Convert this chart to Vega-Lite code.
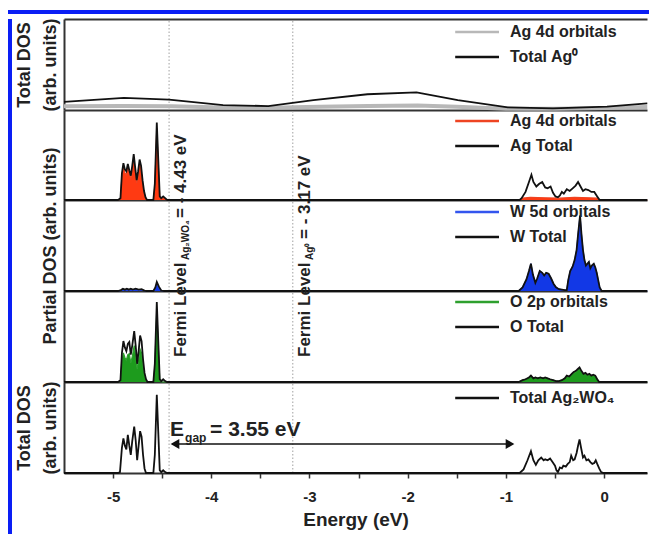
{
"$schema": "https://vega.github.io/schema/vega-lite/v6.json",
"padding": {"left": 8, "top": 10, "right": 0, "bottom": 0},
"background": "#ffffff",
"spacing": 0,
"config": {
  "font": "Liberation Sans",
  "view": {"stroke": null},
  "axis": {"grid": false, "labels": false, "ticks": false, "domainColor": "#333333", "domainWidth": 2, "titleFontWeight": "bold", "titleColor": "#222222", "labelFont": "Liberation Sans", "titleFont": "Liberation Sans"},
  "legend": {"title": null, "orient": "none", "symbolType": "M-6.3,0H1", "symbolSize": 144, "symbolStrokeWidth": 2.5, "labelFontSize": 16, "labelFontWeight": "bold", "labelColor": "#222222", "labelOffset": 9, "rowPadding": 9, "padding": 0, "labelFont": "Liberation Sans"}
},
"datasets": {
  "fermi": [{"E": -4.43}, {"E": -3.17}],
  "dos": [
    {"p":"Ag0","s":"Total Ag⁰","E":-5.5,"v":9},{"p":"Ag0","s":"Total Ag⁰","E":-4.89,"v":13.3},{"p":"Ag0","s":"Total Ag⁰","E":-4.43,"v":11.5},{"p":"Ag0","s":"Total Ag⁰","E":-3.88,"v":5.4},{"p":"Ag0","s":"Total Ag⁰","E":-3.42,"v":4.3},{"p":"Ag0","s":"Total Ag⁰","E":-2.96,"v":10.8},{"p":"Ag0","s":"Total Ag⁰","E":-2.41,"v":17.3},{"p":"Ag0","s":"Total Ag⁰","E":-1.91,"v":19.4},{"p":"Ag0","s":"Total Ag⁰","E":-1.49,"v":10.8},{"p":"Ag0","s":"Total Ag⁰","E":-0.98,"v":2.9},{"p":"Ag0","s":"Total Ag⁰","E":-0.52,"v":1.8},{"p":"Ag0","s":"Total Ag⁰","E":0.03,"v":3.6},{"p":"Ag0","s":"Total Ag⁰","E":0.44,"v":7.2},
    {"p":"Ag0","s":"Ag 4d orbitals","E":-5.5,"v":4},{"p":"Ag0","s":"Ag 4d orbitals","E":-4.9,"v":4.5},{"p":"Ag0","s":"Ag 4d orbitals","E":-4.4,"v":4},{"p":"Ag0","s":"Ag 4d orbitals","E":-3.9,"v":2.8},{"p":"Ag0","s":"Ag 4d orbitals","E":-3.4,"v":2.5},{"p":"Ag0","s":"Ag 4d orbitals","E":-2.9,"v":3.5},{"p":"Ag0","s":"Ag 4d orbitals","E":-2.4,"v":4.5},{"p":"Ag0","s":"Ag 4d orbitals","E":-1.9,"v":5},{"p":"Ag0","s":"Ag 4d orbitals","E":-1.5,"v":3.5},{"p":"Ag0","s":"Ag 4d orbitals","E":-1,"v":1.5},{"p":"Ag0","s":"Ag 4d orbitals","E":-0.5,"v":1.3},{"p":"Ag0","s":"Ag 4d orbitals","E":0,"v":2.2},{"p":"Ag0","s":"Ag 4d orbitals","E":0.44,"v":3.2},

    {"p":"Ag","s":"Ag Total","E":-5.5,"v":0},{"p":"Ag","s":"Ag Total","E":-4.95,"v":0},{"p":"Ag","s":"Ag Total","E":-4.925,"v":2},{"p":"Ag","s":"Ag Total","E":-4.91,"v":30},{"p":"Ag","s":"Ag Total","E":-4.895,"v":41},{"p":"Ag","s":"Ag Total","E":-4.88,"v":34},{"p":"Ag","s":"Ag Total","E":-4.865,"v":32},{"p":"Ag","s":"Ag Total","E":-4.85,"v":40},{"p":"Ag","s":"Ag Total","E":-4.835,"v":33},{"p":"Ag","s":"Ag Total","E":-4.82,"v":27},{"p":"Ag","s":"Ag Total","E":-4.805,"v":38},{"p":"Ag","s":"Ag Total","E":-4.79,"v":51},{"p":"Ag","s":"Ag Total","E":-4.775,"v":36},{"p":"Ag","s":"Ag Total","E":-4.76,"v":22},{"p":"Ag","s":"Ag Total","E":-4.745,"v":32},{"p":"Ag","s":"Ag Total","E":-4.73,"v":45},{"p":"Ag","s":"Ag Total","E":-4.715,"v":38},{"p":"Ag","s":"Ag Total","E":-4.7,"v":22},{"p":"Ag","s":"Ag Total","E":-4.685,"v":10},{"p":"Ag","s":"Ag Total","E":-4.67,"v":3},{"p":"Ag","s":"Ag Total","E":-4.655,"v":0},{"p":"Ag","s":"Ag Total","E":-4.59,"v":0},{"p":"Ag","s":"Ag Total","E":-4.575,"v":18},{"p":"Ag","s":"Ag Total","E":-4.555,"v":86},{"p":"Ag","s":"Ag Total","E":-4.54,"v":45},{"p":"Ag","s":"Ag Total","E":-4.525,"v":4},{"p":"Ag","s":"Ag Total","E":-4.51,"v":2},{"p":"Ag","s":"Ag Total","E":-4.49,"v":4},{"p":"Ag","s":"Ag Total","E":-4.47,"v":2},{"p":"Ag","s":"Ag Total","E":-4.45,"v":0},{"p":"Ag","s":"Ag Total","E":-0.86,"v":0},{"p":"Ag","s":"Ag Total","E":-0.84,"v":2},{"p":"Ag","s":"Ag Total","E":-0.8,"v":9},{"p":"Ag","s":"Ag Total","E":-0.765,"v":20},{"p":"Ag","s":"Ag Total","E":-0.74,"v":28},{"p":"Ag","s":"Ag Total","E":-0.72,"v":20},{"p":"Ag","s":"Ag Total","E":-0.69,"v":15},{"p":"Ag","s":"Ag Total","E":-0.66,"v":18},{"p":"Ag","s":"Ag Total","E":-0.63,"v":20},{"p":"Ag","s":"Ag Total","E":-0.6,"v":14},{"p":"Ag","s":"Ag Total","E":-0.575,"v":13},{"p":"Ag","s":"Ag Total","E":-0.545,"v":15},{"p":"Ag","s":"Ag Total","E":-0.52,"v":8},{"p":"Ag","s":"Ag Total","E":-0.495,"v":4},{"p":"Ag","s":"Ag Total","E":-0.47,"v":3},{"p":"Ag","s":"Ag Total","E":-0.45,"v":5},{"p":"Ag","s":"Ag Total","E":-0.43,"v":9},{"p":"Ag","s":"Ag Total","E":-0.41,"v":7},{"p":"Ag","s":"Ag Total","E":-0.38,"v":12},{"p":"Ag","s":"Ag Total","E":-0.35,"v":10},{"p":"Ag","s":"Ag Total","E":-0.32,"v":13},{"p":"Ag","s":"Ag Total","E":-0.29,"v":16},{"p":"Ag","s":"Ag Total","E":-0.265,"v":20},{"p":"Ag","s":"Ag Total","E":-0.24,"v":15},{"p":"Ag","s":"Ag Total","E":-0.215,"v":10},{"p":"Ag","s":"Ag Total","E":-0.19,"v":12},{"p":"Ag","s":"Ag Total","E":-0.16,"v":11},{"p":"Ag","s":"Ag Total","E":-0.13,"v":9},{"p":"Ag","s":"Ag Total","E":-0.1,"v":9},{"p":"Ag","s":"Ag Total","E":-0.07,"v":4},{"p":"Ag","s":"Ag Total","E":-0.045,"v":0},{"p":"Ag","s":"Ag Total","E":0.44,"v":0},

    {"p":"Ag","s":"Ag 4d orbitals","E":-5.5,"v":0},{"p":"Ag","s":"Ag 4d orbitals","E":-4.95,"v":0},{"p":"Ag","s":"Ag 4d orbitals","E":-4.925,"v":1},{"p":"Ag","s":"Ag 4d orbitals","E":-4.91,"v":26},{"p":"Ag","s":"Ag 4d orbitals","E":-4.895,"v":37},{"p":"Ag","s":"Ag 4d orbitals","E":-4.88,"v":30},{"p":"Ag","s":"Ag 4d orbitals","E":-4.865,"v":28},{"p":"Ag","s":"Ag 4d orbitals","E":-4.85,"v":36},{"p":"Ag","s":"Ag 4d orbitals","E":-4.835,"v":29},{"p":"Ag","s":"Ag 4d orbitals","E":-4.82,"v":23},{"p":"Ag","s":"Ag 4d orbitals","E":-4.805,"v":34},{"p":"Ag","s":"Ag 4d orbitals","E":-4.79,"v":46},{"p":"Ag","s":"Ag 4d orbitals","E":-4.775,"v":32},{"p":"Ag","s":"Ag 4d orbitals","E":-4.76,"v":19},{"p":"Ag","s":"Ag 4d orbitals","E":-4.745,"v":28},{"p":"Ag","s":"Ag 4d orbitals","E":-4.73,"v":40},{"p":"Ag","s":"Ag 4d orbitals","E":-4.715,"v":33},{"p":"Ag","s":"Ag 4d orbitals","E":-4.7,"v":18},{"p":"Ag","s":"Ag 4d orbitals","E":-4.685,"v":8},{"p":"Ag","s":"Ag 4d orbitals","E":-4.67,"v":2},{"p":"Ag","s":"Ag 4d orbitals","E":-4.655,"v":0},{"p":"Ag","s":"Ag 4d orbitals","E":-4.59,"v":0},{"p":"Ag","s":"Ag 4d orbitals","E":-4.575,"v":15},{"p":"Ag","s":"Ag 4d orbitals","E":-4.555,"v":80},{"p":"Ag","s":"Ag 4d orbitals","E":-4.54,"v":40},{"p":"Ag","s":"Ag 4d orbitals","E":-4.525,"v":3},{"p":"Ag","s":"Ag 4d orbitals","E":-4.51,"v":1},{"p":"Ag","s":"Ag 4d orbitals","E":-4.49,"v":2},{"p":"Ag","s":"Ag 4d orbitals","E":-4.47,"v":1},{"p":"Ag","s":"Ag 4d orbitals","E":-4.45,"v":0},{"p":"Ag","s":"Ag 4d orbitals","E":-0.86,"v":0},{"p":"Ag","s":"Ag 4d orbitals","E":-0.83,"v":2},{"p":"Ag","s":"Ag 4d orbitals","E":-0.75,"v":3},{"p":"Ag","s":"Ag 4d orbitals","E":-0.6,"v":2.5},{"p":"Ag","s":"Ag 4d orbitals","E":-0.45,"v":2},{"p":"Ag","s":"Ag 4d orbitals","E":-0.3,"v":3},{"p":"Ag","s":"Ag 4d orbitals","E":-0.15,"v":2.5},{"p":"Ag","s":"Ag 4d orbitals","E":-0.07,"v":2},{"p":"Ag","s":"Ag 4d orbitals","E":-0.045,"v":0},{"p":"Ag","s":"Ag 4d orbitals","E":0.44,"v":0},

    {"p":"W","s":"W Total","E":-5.5,"v":0},{"p":"W","s":"W Total","E":-4.95,"v":0},{"p":"W","s":"W Total","E":-4.92,"v":1},{"p":"W","s":"W Total","E":-4.9,"v":2.5},{"p":"W","s":"W Total","E":-4.88,"v":1.5},{"p":"W","s":"W Total","E":-4.86,"v":2.5},{"p":"W","s":"W Total","E":-4.84,"v":1.5},{"p":"W","s":"W Total","E":-4.82,"v":2.5},{"p":"W","s":"W Total","E":-4.8,"v":1.5},{"p":"W","s":"W Total","E":-4.77,"v":2.5},{"p":"W","s":"W Total","E":-4.74,"v":1.5},{"p":"W","s":"W Total","E":-4.71,"v":2},{"p":"W","s":"W Total","E":-4.68,"v":0.5},{"p":"W","s":"W Total","E":-4.66,"v":0},{"p":"W","s":"W Total","E":-4.59,"v":0},{"p":"W","s":"W Total","E":-4.57,"v":4},{"p":"W","s":"W Total","E":-4.555,"v":10},{"p":"W","s":"W Total","E":-4.535,"v":5},{"p":"W","s":"W Total","E":-4.51,"v":0.5},{"p":"W","s":"W Total","E":-4.48,"v":0},{"p":"W","s":"W Total","E":-0.87,"v":0},{"p":"W","s":"W Total","E":-0.83,"v":4},{"p":"W","s":"W Total","E":-0.79,"v":13},{"p":"W","s":"W Total","E":-0.765,"v":22},{"p":"W","s":"W Total","E":-0.745,"v":30},{"p":"W","s":"W Total","E":-0.725,"v":18},{"p":"W","s":"W Total","E":-0.7,"v":9},{"p":"W","s":"W Total","E":-0.68,"v":14},{"p":"W","s":"W Total","E":-0.655,"v":22},{"p":"W","s":"W Total","E":-0.63,"v":20},{"p":"W","s":"W Total","E":-0.61,"v":17},{"p":"W","s":"W Total","E":-0.59,"v":20},{"p":"W","s":"W Total","E":-0.565,"v":19},{"p":"W","s":"W Total","E":-0.54,"v":14},{"p":"W","s":"W Total","E":-0.515,"v":8},{"p":"W","s":"W Total","E":-0.49,"v":4},{"p":"W","s":"W Total","E":-0.46,"v":2},{"p":"W","s":"W Total","E":-0.43,"v":1.5},{"p":"W","s":"W Total","E":-0.4,"v":1},{"p":"W","s":"W Total","E":-0.38,"v":1},{"p":"W","s":"W Total","E":-0.365,"v":12},{"p":"W","s":"W Total","E":-0.345,"v":22},{"p":"W","s":"W Total","E":-0.32,"v":27},{"p":"W","s":"W Total","E":-0.3,"v":34},{"p":"W","s":"W Total","E":-0.28,"v":45},{"p":"W","s":"W Total","E":-0.265,"v":62},{"p":"W","s":"W Total","E":-0.245,"v":83},{"p":"W","s":"W Total","E":-0.23,"v":62},{"p":"W","s":"W Total","E":-0.215,"v":45},{"p":"W","s":"W Total","E":-0.2,"v":34},{"p":"W","s":"W Total","E":-0.185,"v":28},{"p":"W","s":"W Total","E":-0.17,"v":30},{"p":"W","s":"W Total","E":-0.155,"v":32},{"p":"W","s":"W Total","E":-0.14,"v":25},{"p":"W","s":"W Total","E":-0.125,"v":28},{"p":"W","s":"W Total","E":-0.105,"v":30},{"p":"W","s":"W Total","E":-0.09,"v":26},{"p":"W","s":"W Total","E":-0.075,"v":20},{"p":"W","s":"W Total","E":-0.06,"v":12},{"p":"W","s":"W Total","E":-0.045,"v":4},{"p":"W","s":"W Total","E":-0.025,"v":0},{"p":"W","s":"W Total","E":0.44,"v":0},

    {"p":"W","s":"W 5d orbitals","E":-5.5,"v":0},{"p":"W","s":"W 5d orbitals","E":-4.95,"v":0},{"p":"W","s":"W 5d orbitals","E":-4.92,"v":0.5},{"p":"W","s":"W 5d orbitals","E":-4.9,"v":2},{"p":"W","s":"W 5d orbitals","E":-4.88,"v":1},{"p":"W","s":"W 5d orbitals","E":-4.86,"v":2},{"p":"W","s":"W 5d orbitals","E":-4.84,"v":1},{"p":"W","s":"W 5d orbitals","E":-4.82,"v":2},{"p":"W","s":"W 5d orbitals","E":-4.8,"v":1},{"p":"W","s":"W 5d orbitals","E":-4.77,"v":2},{"p":"W","s":"W 5d orbitals","E":-4.74,"v":1},{"p":"W","s":"W 5d orbitals","E":-4.71,"v":1.5},{"p":"W","s":"W 5d orbitals","E":-4.68,"v":0.3},{"p":"W","s":"W 5d orbitals","E":-4.66,"v":0},{"p":"W","s":"W 5d orbitals","E":-4.59,"v":0},{"p":"W","s":"W 5d orbitals","E":-4.57,"v":3},{"p":"W","s":"W 5d orbitals","E":-4.555,"v":8},{"p":"W","s":"W 5d orbitals","E":-4.535,"v":4},{"p":"W","s":"W 5d orbitals","E":-4.51,"v":0.3},{"p":"W","s":"W 5d orbitals","E":-4.48,"v":0},{"p":"W","s":"W 5d orbitals","E":-0.87,"v":0},{"p":"W","s":"W 5d orbitals","E":-0.83,"v":4},{"p":"W","s":"W 5d orbitals","E":-0.79,"v":13},{"p":"W","s":"W 5d orbitals","E":-0.765,"v":22},{"p":"W","s":"W 5d orbitals","E":-0.745,"v":30},{"p":"W","s":"W 5d orbitals","E":-0.725,"v":18},{"p":"W","s":"W 5d orbitals","E":-0.7,"v":9},{"p":"W","s":"W 5d orbitals","E":-0.68,"v":14},{"p":"W","s":"W 5d orbitals","E":-0.655,"v":22},{"p":"W","s":"W 5d orbitals","E":-0.63,"v":20},{"p":"W","s":"W 5d orbitals","E":-0.61,"v":17},{"p":"W","s":"W 5d orbitals","E":-0.59,"v":20},{"p":"W","s":"W 5d orbitals","E":-0.565,"v":19},{"p":"W","s":"W 5d orbitals","E":-0.54,"v":14},{"p":"W","s":"W 5d orbitals","E":-0.515,"v":8},{"p":"W","s":"W 5d orbitals","E":-0.49,"v":4},{"p":"W","s":"W 5d orbitals","E":-0.46,"v":2},{"p":"W","s":"W 5d orbitals","E":-0.43,"v":1.5},{"p":"W","s":"W 5d orbitals","E":-0.4,"v":1},{"p":"W","s":"W 5d orbitals","E":-0.38,"v":1},{"p":"W","s":"W 5d orbitals","E":-0.365,"v":12},{"p":"W","s":"W 5d orbitals","E":-0.345,"v":22},{"p":"W","s":"W 5d orbitals","E":-0.32,"v":27},{"p":"W","s":"W 5d orbitals","E":-0.3,"v":34},{"p":"W","s":"W 5d orbitals","E":-0.28,"v":45},{"p":"W","s":"W 5d orbitals","E":-0.265,"v":62},{"p":"W","s":"W 5d orbitals","E":-0.245,"v":83},{"p":"W","s":"W 5d orbitals","E":-0.23,"v":62},{"p":"W","s":"W 5d orbitals","E":-0.215,"v":45},{"p":"W","s":"W 5d orbitals","E":-0.2,"v":34},{"p":"W","s":"W 5d orbitals","E":-0.185,"v":28},{"p":"W","s":"W 5d orbitals","E":-0.17,"v":30},{"p":"W","s":"W 5d orbitals","E":-0.155,"v":32},{"p":"W","s":"W 5d orbitals","E":-0.14,"v":25},{"p":"W","s":"W 5d orbitals","E":-0.125,"v":28},{"p":"W","s":"W 5d orbitals","E":-0.105,"v":30},{"p":"W","s":"W 5d orbitals","E":-0.09,"v":26},{"p":"W","s":"W 5d orbitals","E":-0.075,"v":20},{"p":"W","s":"W 5d orbitals","E":-0.06,"v":12},{"p":"W","s":"W 5d orbitals","E":-0.045,"v":4},{"p":"W","s":"W 5d orbitals","E":-0.025,"v":0},{"p":"W","s":"W 5d orbitals","E":0.44,"v":0},

    {"p":"O","s":"O Total","E":-5.5,"v":0},{"p":"O","s":"O Total","E":-4.95,"v":0},{"p":"O","s":"O Total","E":-4.925,"v":2},{"p":"O","s":"O Total","E":-4.91,"v":32},{"p":"O","s":"O Total","E":-4.895,"v":45},{"p":"O","s":"O Total","E":-4.88,"v":38},{"p":"O","s":"O Total","E":-4.865,"v":34},{"p":"O","s":"O Total","E":-4.85,"v":42},{"p":"O","s":"O Total","E":-4.835,"v":44},{"p":"O","s":"O Total","E":-4.82,"v":30},{"p":"O","s":"O Total","E":-4.805,"v":40},{"p":"O","s":"O Total","E":-4.785,"v":56},{"p":"O","s":"O Total","E":-4.77,"v":40},{"p":"O","s":"O Total","E":-4.755,"v":20},{"p":"O","s":"O Total","E":-4.74,"v":34},{"p":"O","s":"O Total","E":-4.725,"v":51},{"p":"O","s":"O Total","E":-4.71,"v":45},{"p":"O","s":"O Total","E":-4.695,"v":25},{"p":"O","s":"O Total","E":-4.68,"v":10},{"p":"O","s":"O Total","E":-4.665,"v":3},{"p":"O","s":"O Total","E":-4.65,"v":0},{"p":"O","s":"O Total","E":-4.59,"v":0},{"p":"O","s":"O Total","E":-4.575,"v":20},{"p":"O","s":"O Total","E":-4.555,"v":88},{"p":"O","s":"O Total","E":-4.54,"v":45},{"p":"O","s":"O Total","E":-4.525,"v":3},{"p":"O","s":"O Total","E":-4.51,"v":1},{"p":"O","s":"O Total","E":-4.49,"v":3},{"p":"O","s":"O Total","E":-4.47,"v":1},{"p":"O","s":"O Total","E":-4.45,"v":0},{"p":"O","s":"O Total","E":-0.87,"v":0},{"p":"O","s":"O Total","E":-0.83,"v":2},{"p":"O","s":"O Total","E":-0.8,"v":3},{"p":"O","s":"O Total","E":-0.765,"v":5},{"p":"O","s":"O Total","E":-0.745,"v":7},{"p":"O","s":"O Total","E":-0.72,"v":4},{"p":"O","s":"O Total","E":-0.7,"v":5},{"p":"O","s":"O Total","E":-0.675,"v":4},{"p":"O","s":"O Total","E":-0.65,"v":5},{"p":"O","s":"O Total","E":-0.62,"v":4},{"p":"O","s":"O Total","E":-0.6,"v":5},{"p":"O","s":"O Total","E":-0.575,"v":4},{"p":"O","s":"O Total","E":-0.55,"v":3},{"p":"O","s":"O Total","E":-0.52,"v":2},{"p":"O","s":"O Total","E":-0.49,"v":1},{"p":"O","s":"O Total","E":-0.46,"v":1},{"p":"O","s":"O Total","E":-0.43,"v":2},{"p":"O","s":"O Total","E":-0.4,"v":4},{"p":"O","s":"O Total","E":-0.38,"v":7},{"p":"O","s":"O Total","E":-0.355,"v":6},{"p":"O","s":"O Total","E":-0.33,"v":9},{"p":"O","s":"O Total","E":-0.31,"v":11},{"p":"O","s":"O Total","E":-0.29,"v":12},{"p":"O","s":"O Total","E":-0.27,"v":14},{"p":"O","s":"O Total","E":-0.25,"v":16},{"p":"O","s":"O Total","E":-0.23,"v":12},{"p":"O","s":"O Total","E":-0.21,"v":9},{"p":"O","s":"O Total","E":-0.19,"v":10},{"p":"O","s":"O Total","E":-0.17,"v":8},{"p":"O","s":"O Total","E":-0.15,"v":9},{"p":"O","s":"O Total","E":-0.13,"v":7},{"p":"O","s":"O Total","E":-0.11,"v":8},{"p":"O","s":"O Total","E":-0.09,"v":7},{"p":"O","s":"O Total","E":-0.07,"v":3},{"p":"O","s":"O Total","E":-0.05,"v":0},{"p":"O","s":"O Total","E":0.44,"v":0},

    {"p":"O","s":"O 2p orbitals","E":-5.5,"v":0},{"p":"O","s":"O 2p orbitals","E":-4.95,"v":0},{"p":"O","s":"O 2p orbitals","E":-4.925,"v":1},{"p":"O","s":"O 2p orbitals","E":-4.91,"v":23},{"p":"O","s":"O 2p orbitals","E":-4.895,"v":32},{"p":"O","s":"O 2p orbitals","E":-4.88,"v":27},{"p":"O","s":"O 2p orbitals","E":-4.865,"v":24},{"p":"O","s":"O 2p orbitals","E":-4.85,"v":30},{"p":"O","s":"O 2p orbitals","E":-4.835,"v":31},{"p":"O","s":"O 2p orbitals","E":-4.82,"v":21},{"p":"O","s":"O 2p orbitals","E":-4.805,"v":28},{"p":"O","s":"O 2p orbitals","E":-4.785,"v":40},{"p":"O","s":"O 2p orbitals","E":-4.77,"v":28},{"p":"O","s":"O 2p orbitals","E":-4.755,"v":14},{"p":"O","s":"O 2p orbitals","E":-4.74,"v":24},{"p":"O","s":"O 2p orbitals","E":-4.725,"v":36},{"p":"O","s":"O 2p orbitals","E":-4.71,"v":32},{"p":"O","s":"O 2p orbitals","E":-4.695,"v":18},{"p":"O","s":"O 2p orbitals","E":-4.68,"v":7},{"p":"O","s":"O 2p orbitals","E":-4.665,"v":2},{"p":"O","s":"O 2p orbitals","E":-4.65,"v":0},{"p":"O","s":"O 2p orbitals","E":-4.59,"v":0},{"p":"O","s":"O 2p orbitals","E":-4.575,"v":17},{"p":"O","s":"O 2p orbitals","E":-4.555,"v":80},{"p":"O","s":"O 2p orbitals","E":-4.54,"v":40},{"p":"O","s":"O 2p orbitals","E":-4.525,"v":2},{"p":"O","s":"O 2p orbitals","E":-4.51,"v":0},{"p":"O","s":"O 2p orbitals","E":-0.87,"v":0},{"p":"O","s":"O 2p orbitals","E":-0.83,"v":2},{"p":"O","s":"O 2p orbitals","E":-0.8,"v":3},{"p":"O","s":"O 2p orbitals","E":-0.765,"v":5},{"p":"O","s":"O 2p orbitals","E":-0.745,"v":6.5},{"p":"O","s":"O 2p orbitals","E":-0.72,"v":4},{"p":"O","s":"O 2p orbitals","E":-0.7,"v":5},{"p":"O","s":"O 2p orbitals","E":-0.675,"v":4},{"p":"O","s":"O 2p orbitals","E":-0.65,"v":5},{"p":"O","s":"O 2p orbitals","E":-0.62,"v":4},{"p":"O","s":"O 2p orbitals","E":-0.6,"v":4.5},{"p":"O","s":"O 2p orbitals","E":-0.575,"v":4},{"p":"O","s":"O 2p orbitals","E":-0.55,"v":3},{"p":"O","s":"O 2p orbitals","E":-0.52,"v":2},{"p":"O","s":"O 2p orbitals","E":-0.49,"v":1},{"p":"O","s":"O 2p orbitals","E":-0.46,"v":1},{"p":"O","s":"O 2p orbitals","E":-0.43,"v":2},{"p":"O","s":"O 2p orbitals","E":-0.4,"v":4},{"p":"O","s":"O 2p orbitals","E":-0.38,"v":6.5},{"p":"O","s":"O 2p orbitals","E":-0.355,"v":6},{"p":"O","s":"O 2p orbitals","E":-0.33,"v":8.5},{"p":"O","s":"O 2p orbitals","E":-0.31,"v":10},{"p":"O","s":"O 2p orbitals","E":-0.29,"v":11},{"p":"O","s":"O 2p orbitals","E":-0.27,"v":13},{"p":"O","s":"O 2p orbitals","E":-0.25,"v":15},{"p":"O","s":"O 2p orbitals","E":-0.23,"v":11},{"p":"O","s":"O 2p orbitals","E":-0.21,"v":8.5},{"p":"O","s":"O 2p orbitals","E":-0.19,"v":9.5},{"p":"O","s":"O 2p orbitals","E":-0.17,"v":7.5},{"p":"O","s":"O 2p orbitals","E":-0.15,"v":8.5},{"p":"O","s":"O 2p orbitals","E":-0.13,"v":6.5},{"p":"O","s":"O 2p orbitals","E":-0.11,"v":7.5},{"p":"O","s":"O 2p orbitals","E":-0.09,"v":6.5},{"p":"O","s":"O 2p orbitals","E":-0.07,"v":3},{"p":"O","s":"O 2p orbitals","E":-0.05,"v":0},{"p":"O","s":"O 2p orbitals","E":0.44,"v":0},

    {"p":"T","s":"Total Ag₂WO₄","E":-5.5,"v":0},{"p":"T","s":"Total Ag₂WO₄","E":-4.95,"v":0},{"p":"T","s":"Total Ag₂WO₄","E":-4.93,"v":1},{"p":"T","s":"Total Ag₂WO₄","E":-4.91,"v":28},{"p":"T","s":"Total Ag₂WO₄","E":-4.895,"v":38},{"p":"T","s":"Total Ag₂WO₄","E":-4.88,"v":30},{"p":"T","s":"Total Ag₂WO₄","E":-4.865,"v":26},{"p":"T","s":"Total Ag₂WO₄","E":-4.85,"v":42},{"p":"T","s":"Total Ag₂WO₄","E":-4.835,"v":30},{"p":"T","s":"Total Ag₂WO₄","E":-4.82,"v":20},{"p":"T","s":"Total Ag₂WO₄","E":-4.805,"v":35},{"p":"T","s":"Total Ag₂WO₄","E":-4.785,"v":51},{"p":"T","s":"Total Ag₂WO₄","E":-4.77,"v":36},{"p":"T","s":"Total Ag₂WO₄","E":-4.755,"v":14},{"p":"T","s":"Total Ag₂WO₄","E":-4.74,"v":30},{"p":"T","s":"Total Ag₂WO₄","E":-4.725,"v":46},{"p":"T","s":"Total Ag₂WO₄","E":-4.71,"v":40},{"p":"T","s":"Total Ag₂WO₄","E":-4.695,"v":20},{"p":"T","s":"Total Ag₂WO₄","E":-4.68,"v":5},{"p":"T","s":"Total Ag₂WO₄","E":-4.665,"v":0},{"p":"T","s":"Total Ag₂WO₄","E":-4.59,"v":0},{"p":"T","s":"Total Ag₂WO₄","E":-4.575,"v":20},{"p":"T","s":"Total Ag₂WO₄","E":-4.555,"v":86},{"p":"T","s":"Total Ag₂WO₄","E":-4.54,"v":45},{"p":"T","s":"Total Ag₂WO₄","E":-4.525,"v":3},{"p":"T","s":"Total Ag₂WO₄","E":-4.51,"v":1},{"p":"T","s":"Total Ag₂WO₄","E":-4.49,"v":3},{"p":"T","s":"Total Ag₂WO₄","E":-4.47,"v":1},{"p":"T","s":"Total Ag₂WO₄","E":-4.45,"v":0},{"p":"T","s":"Total Ag₂WO₄","E":-0.86,"v":0},{"p":"T","s":"Total Ag₂WO₄","E":-0.82,"v":4},{"p":"T","s":"Total Ag₂WO₄","E":-0.78,"v":14},{"p":"T","s":"Total Ag₂WO₄","E":-0.745,"v":24},{"p":"T","s":"Total Ag₂WO₄","E":-0.72,"v":14},{"p":"T","s":"Total Ag₂WO₄","E":-0.695,"v":9},{"p":"T","s":"Total Ag₂WO₄","E":-0.67,"v":14},{"p":"T","s":"Total Ag₂WO₄","E":-0.64,"v":17},{"p":"T","s":"Total Ag₂WO₄","E":-0.615,"v":14},{"p":"T","s":"Total Ag₂WO₄","E":-0.6,"v":15},{"p":"T","s":"Total Ag₂WO₄","E":-0.575,"v":14},{"p":"T","s":"Total Ag₂WO₄","E":-0.55,"v":16},{"p":"T","s":"Total Ag₂WO₄","E":-0.525,"v":12},{"p":"T","s":"Total Ag₂WO₄","E":-0.5,"v":8},{"p":"T","s":"Total Ag₂WO₄","E":-0.485,"v":3},{"p":"T","s":"Total Ag₂WO₄","E":-0.47,"v":1},{"p":"T","s":"Total Ag₂WO₄","E":-0.45,"v":6},{"p":"T","s":"Total Ag₂WO₄","E":-0.43,"v":5},{"p":"T","s":"Total Ag₂WO₄","E":-0.415,"v":8},{"p":"T","s":"Total Ag₂WO₄","E":-0.39,"v":7},{"p":"T","s":"Total Ag₂WO₄","E":-0.37,"v":10},{"p":"T","s":"Total Ag₂WO₄","E":-0.35,"v":12},{"p":"T","s":"Total Ag₂WO₄","E":-0.335,"v":19},{"p":"T","s":"Total Ag₂WO₄","E":-0.315,"v":14},{"p":"T","s":"Total Ag₂WO₄","E":-0.3,"v":15},{"p":"T","s":"Total Ag₂WO₄","E":-0.28,"v":22},{"p":"T","s":"Total Ag₂WO₄","E":-0.265,"v":30},{"p":"T","s":"Total Ag₂WO₄","E":-0.25,"v":37},{"p":"T","s":"Total Ag₂WO₄","E":-0.235,"v":28},{"p":"T","s":"Total Ag₂WO₄","E":-0.215,"v":17},{"p":"T","s":"Total Ag₂WO₄","E":-0.2,"v":19},{"p":"T","s":"Total Ag₂WO₄","E":-0.18,"v":14},{"p":"T","s":"Total Ag₂WO₄","E":-0.16,"v":15},{"p":"T","s":"Total Ag₂WO₄","E":-0.14,"v":12},{"p":"T","s":"Total Ag₂WO₄","E":-0.12,"v":10},{"p":"T","s":"Total Ag₂WO₄","E":-0.1,"v":11},{"p":"T","s":"Total Ag₂WO₄","E":-0.085,"v":14},{"p":"T","s":"Total Ag₂WO₄","E":-0.07,"v":10},{"p":"T","s":"Total Ag₂WO₄","E":-0.05,"v":5},{"p":"T","s":"Total Ag₂WO₄","E":-0.03,"v":1},{"p":"T","s":"Total Ag₂WO₄","E":-0.005,"v":0},{"p":"T","s":"Total Ag₂WO₄","E":0.44,"v":0}
  ]
},
"vconcat": [
  {"width": 641, "height": 4, "view": {"fill": "#0a1ef5", "stroke": null}, "data": {"values": []}, "mark": "point", "encoding": {}},
  {"spacing": 3, "hconcat": [
    {"width": 4, "height": 520, "view": {"fill": "#0a1ef5", "stroke": null}, "data": {"values": []}, "mark": "point", "encoding": {}},
    {"spacing": 0, "bounds": "flush",
     "resolve": {"scale": {"color": "independent"}, "legend": {"color": "independent"}},
     "vconcat": [
      {"width": 583, "height": 91,
       "resolve": {"axis": {"x": "independent"}},
       "layer": [
        {"data": {"name": "fermi"}, "mark": {"type": "rule", "color": "#a0a0a0", "strokeWidth": 1, "strokeDash": [1.5, 2]},
         "encoding": {"x": {"field": "E", "type": "quantitative", "title": null, "scale": {"domain": [-5.5, 0.437], "nice": false, "zero": false}, "axis": {"orient": "top", "title": null, "ticks": true, "tickColor": "#ffffff", "tickSize": 4, "values": [-5]}}, "y": {"datum": 0}, "y2": {"datum": 100}}},
        {"data": {"name": "dos"}, "transform": [{"filter": "datum.p === 'Ag0' && datum.s === 'Ag 4d orbitals'"}],
         "mark": {"type": "line", "strokeWidth": 4},
         "encoding": {"x": {"field": "E", "type": "quantitative", "title": null, "scale": {"domain": [-5.5, 0.437], "nice": false, "zero": false}, "axis": {"orient": "bottom", "title": null}},
                      "y": {"field": "v", "type": "quantitative", "scale": {"domain": [0, 100], "nice": false}, "axis": {"title": ["Total DOS", "(arb. units)"], "titleFontSize": 18, "titleLineHeight": 26, "titlePadding": 5, "minExtent": 0, "maxExtent": 0}},
                      "color": {"field": "s", "type": "nominal", "scale": {"domain": ["Ag 4d orbitals", "Total Ag⁰"], "range": ["#b8b8b8", "#111111"]}, "legend": {"legendX": 421, "legendY": 5}}}},
        {"data": {"name": "dos"}, "transform": [{"filter": "datum.p === 'Ag0' && datum.s === 'Total Ag⁰'"}],
         "mark": {"type": "line", "strokeWidth": 1.8},
         "encoding": {"x": {"field": "E", "type": "quantitative", "axis": null}, "y": {"field": "v", "type": "quantitative"}, "color": {"field": "s", "type": "nominal"}}}
       ]},
      {"width": 583, "height": 90,
       "layer": [
        {"data": {"name": "fermi"}, "mark": {"type": "rule", "color": "#a0a0a0", "strokeWidth": 1, "strokeDash": [1.5, 2]},
         "encoding": {"x": {"field": "E", "type": "quantitative", "scale": {"domain": [-5.5, 0.437], "nice": false, "zero": false}, "axis": {"orient": "bottom", "title": null}}, "y": {"datum": 0}, "y2": {"datum": 100}}},
        {"data": {"name": "dos"}, "transform": [{"filter": "datum.p === 'Ag' && datum.s === 'Ag 4d orbitals'"}],
         "mark": {"type": "area", "color": "#ff3a12"},
         "encoding": {"x": {"field": "E", "type": "quantitative"}, "y": {"field": "v", "type": "quantitative", "scale": {"domain": [0, 100], "nice": false}, "axis": {"title": null}}}},
        {"data": {"name": "dos"}, "transform": [{"filter": "datum.p === 'Ag' && datum.s === 'Ag 4d orbitals'"}],
         "mark": {"type": "line", "strokeWidth": 1.2},
         "encoding": {"x": {"field": "E", "type": "quantitative"}, "y": {"field": "v", "type": "quantitative"},
                      "color": {"field": "s", "type": "nominal", "scale": {"domain": ["Ag 4d orbitals", "Ag Total"], "range": ["#ee4422", "#111111"]}, "legend": {"legendX": 421, "legendY": 3}}}},
        {"data": {"name": "dos"}, "transform": [{"filter": "datum.p === 'Ag' && datum.s === 'Ag Total'"}],
         "mark": {"type": "line", "strokeWidth": 1.8},
         "encoding": {"x": {"field": "E", "type": "quantitative"}, "y": {"field": "v", "type": "quantitative"}, "color": {"field": "s", "type": "nominal"}}}
       ]},
      {"width": 583, "height": 91,
       "layer": [
        {"data": {"name": "fermi"}, "mark": {"type": "rule", "color": "#a0a0a0", "strokeWidth": 1, "strokeDash": [1.5, 2]},
         "encoding": {"x": {"field": "E", "type": "quantitative", "scale": {"domain": [-5.5, 0.437], "nice": false, "zero": false}, "axis": {"orient": "bottom", "title": null}}, "y": {"datum": 0}, "y2": {"datum": 100}}},
        {"data": {"name": "dos"}, "transform": [{"filter": "datum.p === 'W' && datum.s === 'W 5d orbitals'"}],
         "mark": {"type": "area", "color": "#1238e6"},
         "encoding": {"x": {"field": "E", "type": "quantitative"}, "y": {"field": "v", "type": "quantitative", "scale": {"domain": [0, 100], "nice": false}, "axis": {"title": "Partial DOS (arb. units)", "titleFontSize": 18, "titlePadding": 5, "minExtent": 0, "maxExtent": 0}}}},
        {"data": {"name": "dos"}, "transform": [{"filter": "datum.p === 'W' && datum.s === 'W 5d orbitals'"}],
         "mark": {"type": "line", "strokeWidth": 1.2},
         "encoding": {"x": {"field": "E", "type": "quantitative"}, "y": {"field": "v", "type": "quantitative"},
                      "color": {"field": "s", "type": "nominal", "scale": {"domain": ["W 5d orbitals", "W Total"], "range": ["#3355ee", "#111111"]}, "legend": {"legendX": 421, "legendY": 4}}}},
        {"data": {"name": "dos"}, "transform": [{"filter": "datum.p === 'W' && datum.s === 'W Total'"}],
         "mark": {"type": "line", "strokeWidth": 1.8},
         "encoding": {"x": {"field": "E", "type": "quantitative"}, "y": {"field": "v", "type": "quantitative"}, "color": {"field": "s", "type": "nominal"}}}
       ]},
      {"width": 583, "height": 91,
       "layer": [
        {"data": {"name": "fermi"}, "mark": {"type": "rule", "color": "#a0a0a0", "strokeWidth": 1, "strokeDash": [1.5, 2]},
         "encoding": {"x": {"field": "E", "type": "quantitative", "scale": {"domain": [-5.5, 0.437], "nice": false, "zero": false}, "axis": {"orient": "bottom", "title": null}}, "y": {"datum": 0}, "y2": {"datum": 100}}},
        {"data": {"name": "dos"}, "transform": [{"filter": "datum.p === 'O' && datum.s === 'O 2p orbitals'"}],
         "mark": {"type": "area", "color": "#1d9b1d"},
         "encoding": {"x": {"field": "E", "type": "quantitative"}, "y": {"field": "v", "type": "quantitative", "scale": {"domain": [0, 100], "nice": false}, "axis": {"title": null}}}},
        {"data": {"name": "dos"}, "transform": [{"filter": "datum.p === 'O' && datum.s === 'O 2p orbitals'"}],
         "mark": {"type": "line", "strokeWidth": 1.2},
         "encoding": {"x": {"field": "E", "type": "quantitative"}, "y": {"field": "v", "type": "quantitative"},
                      "color": {"field": "s", "type": "nominal", "scale": {"domain": ["O 2p orbitals", "O Total"], "range": ["#2ea02e", "#111111"]}, "legend": {"legendX": 421, "legendY": 3}}}},
        {"data": {"name": "dos"}, "transform": [{"filter": "datum.p === 'O' && datum.s === 'O Total'"}],
         "mark": {"type": "line", "strokeWidth": 1.8},
         "encoding": {"x": {"field": "E", "type": "quantitative"}, "y": {"field": "v", "type": "quantitative"}, "color": {"field": "s", "type": "nominal"}}},
        {"data": {"values": [{"E": -4.31, "v": 27.5, "t": "Fermi Level"}, {"E": -3.045, "v": 27.5, "t": "Fermi Level"}]},
         "mark": {"type": "text", "angle": 270, "align": "left", "baseline": "middle", "fontSize": 17, "fontWeight": "bold", "color": "#222222"},
         "encoding": {"x": {"field": "E", "type": "quantitative"}, "y": {"field": "v", "type": "quantitative"}, "text": {"field": "t"}}},
        {"data": {"values": [{"E": -4.31, "v": 27.5, "t": "Ag₂WO₄"}, {"E": -3.045, "v": 27.5, "t": "Ag⁰"}]},
         "mark": {"type": "text", "angle": 270, "align": "left", "baseline": "middle", "fontSize": 10, "fontWeight": "bold", "color": "#222222", "dx": 97, "dy": 5},
         "encoding": {"x": {"field": "E", "type": "quantitative"}, "y": {"field": "v", "type": "quantitative"}, "text": {"field": "t"}}},
        {"data": {"values": [{"E": -4.31, "v": 27.5, "t": "= - 4.43 eV"}]},
         "mark": {"type": "text", "angle": 270, "align": "left", "baseline": "middle", "fontSize": 17, "fontWeight": "bold", "color": "#222222", "dx": 139},
         "encoding": {"x": {"field": "E", "type": "quantitative"}, "y": {"field": "v", "type": "quantitative"}, "text": {"field": "t"}}},
        {"data": {"values": [{"E": -3.045, "v": 27.5, "t": "= - 3.17 eV"}]},
         "mark": {"type": "text", "angle": 270, "align": "left", "baseline": "middle", "fontSize": 17, "fontWeight": "bold", "color": "#222222", "dx": 118},
         "encoding": {"x": {"field": "E", "type": "quantitative"}, "y": {"field": "v", "type": "quantitative"}, "text": {"field": "t"}}}
       ]},
      {"width": 583, "height": 91,
       "layer": [
        {"data": {"name": "fermi"}, "mark": {"type": "rule", "color": "#a0a0a0", "strokeWidth": 1, "strokeDash": [1.5, 2]},
         "encoding": {"x": {"field": "E", "type": "quantitative", "scale": {"domain": [-5.5, 0.437], "nice": false, "zero": false},
                            "axis": {"orient": "bottom", "title": "Energy (eV)", "labels": true, "ticks": true, "values": [-5, -4.5, -4, -3.5, -3, -2.5, -2, -1.5, -1, -0.5, 0], "labelExpr": "datum.value % 1 === 0 ? '' + datum.value : ''", "tickSize": 5, "tickWidth": 1.5, "tickColor": "#333333", "labelFontSize": 15, "labelFontWeight": "bold", "labelColor": "#222222", "labelPadding": 11, "labelFlush": false, "titleFontSize": 19, "titlePadding": 6}},
                      "y": {"datum": 0}, "y2": {"datum": 100}}},
        {"data": {"name": "dos"}, "transform": [{"filter": "datum.p === 'T'"}],
         "mark": {"type": "line", "strokeWidth": 1.8},
         "encoding": {"x": {"field": "E", "type": "quantitative"}, "y": {"field": "v", "type": "quantitative", "scale": {"domain": [0, 100], "nice": false}, "axis": {"title": ["Total DOS", "(arb. units)"], "titleFontSize": 18, "titleLineHeight": 26, "titlePadding": 5, "minExtent": 0, "maxExtent": 0}},
                      "color": {"field": "s", "type": "nominal", "scale": {"domain": ["Total Ag₂WO₄"], "range": ["#111111"]}, "legend": {"legendX": 421, "legendY": 8}}}},
        {"data": {"values": [{"E": -4.4, "E2": -0.93, "v": 31.9}]},
         "mark": {"type": "rule", "color": "#111111", "strokeWidth": 1.5},
         "encoding": {"x": {"field": "E", "type": "quantitative"}, "x2": {"field": "E2"}, "y": {"field": "v", "type": "quantitative"}}},
        {"data": {"values": [{"E": -4.37, "v": 31.9}]},
         "mark": {"type": "point", "shape": "triangle-left", "filled": true, "size": 100, "color": "#111111", "opacity": 1},
         "encoding": {"x": {"field": "E", "type": "quantitative"}, "y": {"field": "v", "type": "quantitative"}}},
        {"data": {"values": [{"E": -0.958, "v": 31.9}]},
         "mark": {"type": "point", "shape": "triangle-right", "filled": true, "size": 100, "color": "#111111", "opacity": 1},
         "encoding": {"x": {"field": "E", "type": "quantitative"}, "y": {"field": "v", "type": "quantitative"}}},
        {"data": {"values": [{"E": -4.42, "v": 47, "t": "E"}]},
         "mark": {"type": "text", "align": "left", "baseline": "middle", "fontSize": 21, "fontWeight": "bold", "color": "#222222"},
         "encoding": {"x": {"field": "E", "type": "quantitative"}, "y": {"field": "v", "type": "quantitative"}, "text": {"field": "t"}}},
        {"data": {"values": [{"E": -4.42, "v": 47, "t": "gap"}]},
         "mark": {"type": "text", "align": "left", "baseline": "middle", "fontSize": 12, "fontWeight": "bold", "color": "#222222", "dx": 15, "dy": 8},
         "encoding": {"x": {"field": "E", "type": "quantitative"}, "y": {"field": "v", "type": "quantitative"}, "text": {"field": "t"}}},
        {"data": {"values": [{"E": -4.42, "v": 47, "t": "= 3.55 eV"}]},
         "mark": {"type": "text", "align": "left", "baseline": "middle", "fontSize": 21, "fontWeight": "bold", "color": "#222222", "dx": 40},
         "encoding": {"x": {"field": "E", "type": "quantitative"}, "y": {"field": "v", "type": "quantitative"}, "text": {"field": "t"}}}
       ]}
     ]}
  ]}
]
}
